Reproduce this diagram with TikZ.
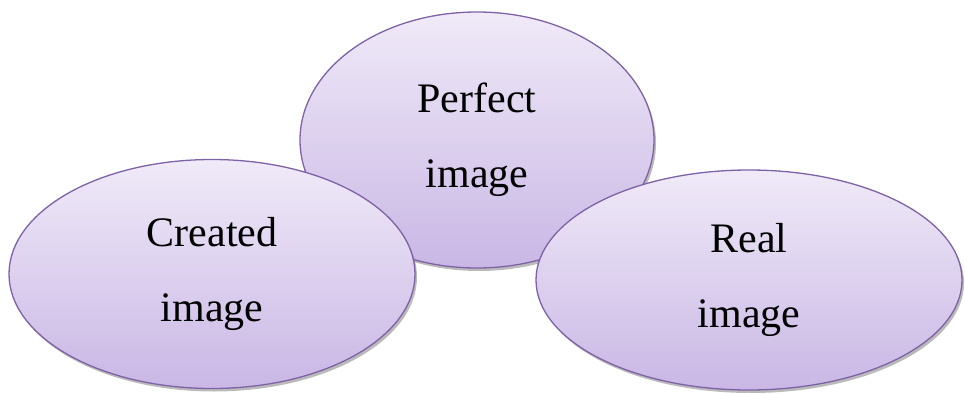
\documentclass[tikz,border=0pt]{standalone}
\usepackage{fontspec}
\setmainfont{Liberation Serif}
\usetikzlibrary{shapes.geometric,shadows}
\definecolor{edgecol}{HTML}{7E62A6}
\definecolor{topcol}{HTML}{F0EAF8}
\definecolor{botcol}{HTML}{C9B7E5}
\tikzset{
  bubble/.style={ellipse, draw=edgecol, line width=1.3pt, inner sep=0pt,
    top color=topcol, bottom color=botcol,
    drop shadow={shadow xshift=2pt, shadow yshift=-3pt, fill=black!45, opacity=0.6},
    align=center, font=\fontsize{42}{75}\selectfont, text=black}
}
\begin{document}
\begin{tikzpicture}[x=1pt,y=-1pt]
\useasboundingbox (0,0) rectangle (965,393);
\node[bubble, minimum width=354pt, minimum height=256pt] (perfect) at (477,140) {Perfect\\image};
\node[bubble, minimum width=406pt, minimum height=229pt] (created) at (212,274) {Created\\image};
\node[bubble, minimum width=426pt, minimum height=220pt] (real) at (749,280) {Real\\image};
\end{tikzpicture}
\end{document}
